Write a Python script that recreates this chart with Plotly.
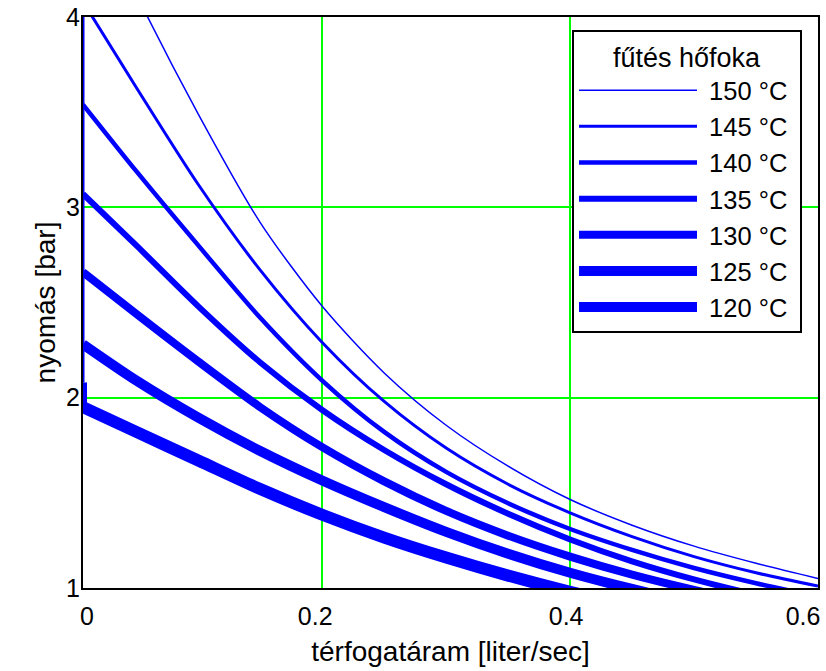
import plotly.graph_objects as go

# ---- data ----
x_flow = [0.007, 0.05, 0.1, 0.15, 0.2, 0.25, 0.3, 0.35, 0.4, 0.45, 0.5, 0.55, 0.6]
p150 = [4.72, 4.12, 3.49, 2.92, 2.48, 2.13, 1.855, 1.64, 1.465, 1.33, 1.22, 1.13, 1.05]
p145 = [4.08, 3.63, 3.12, 2.67, 2.29, 1.98, 1.735, 1.545, 1.395, 1.27, 1.165, 1.08, 1.01]
p140 = [3.54, 3.19, 2.80, 2.42, 2.09, 1.82, 1.61, 1.445, 1.31, 1.20, 1.105, 1.025, 0.955]
p135 = [3.07, 2.80, 2.48, 2.185, 1.935, 1.725, 1.545, 1.39, 1.255, 1.14, 1.045, 0.965, 0.895]
p130 = [2.66, 2.44, 2.19, 1.95, 1.74, 1.56, 1.405, 1.275, 1.165, 1.07, 0.99, 0.92, 0.86]
p125 = [2.28, 2.09, 1.895, 1.72, 1.565, 1.425, 1.295, 1.18, 1.08, 0.995, 0.92, 0.855, 0.80]
p120 = [1.95, 1.82, 1.67, 1.52, 1.385, 1.265, 1.16, 1.065, 0.98, 0.905, 0.84, 0.78, 0.73]

series_names = ["150 °C", "145 °C", "140 °C", "135 °C", "130 °C", "125 °C", "120 °C"]
series_values = [p150, p145, p140, p135, p130, p125, p120]
line_widths = [1.5, 3, 4.5, 6, 8, 10, 12]

# vertical start-up segments on the left edge
edge_y = [2.08, 4.0]
spike_y = [2.08, 1.95]

x_ticks = [0, 0.2, 0.4, 0.6]
x_tick_text = ["0", "0.2", "0.4", "0.6"]
x_grid = [0.2, 0.4]
y_ticks = [1, 2, 3, 4]
y_tick_text = ["1", "2", "3", "4"]

X_MIN, X_MAX = 0.007, 0.6
Y_MIN, Y_MAX = 1, 4

BLUE = "#0000ff"
GREEN = "#00ff00"
FONT = "Liberation Sans, Arial, sans-serif"
NBSP = "\u00a0"

# layout geometry
W, H = 826, 671
ML, MR, MT, MB = 83, 8, 17, 83
plot_w = W - ML - MR
plot_h = H - MT - MB
px_per_unit = plot_w / (X_MAX - X_MIN)
label_shift_px = [4, -7, -4, -15]
x_label_pos = [max(t, X_MIN) + s / px_per_unit for t, s in zip(x_ticks, label_shift_px)]

fig = go.Figure()

for name, vals, w in zip(series_names, series_values, line_widths):
    fig.add_trace(go.Scatter(
        x=x_flow, y=vals, mode="lines", name=NBSP + name + NBSP,
        line=dict(color=BLUE, width=w, shape="spline", smoothing=0.8),
        hoverinfo="skip",
    ))

fig.add_trace(go.Scatter(
    x=[X_MIN] * len(edge_y), y=edge_y, mode="lines", showlegend=False,
    line=dict(color=BLUE, width=3), hoverinfo="skip",
))
fig.add_trace(go.Scatter(
    x=[X_MIN] * len(spike_y), y=spike_y, mode="lines", showlegend=False,
    line=dict(color=BLUE, width=8), hoverinfo="skip",
))

fig.update_layout(
    template="none",
    width=W, height=H,
    margin=dict(l=ML, r=MR, t=MT, b=MB, autoexpand=False),
    paper_bgcolor="white", plot_bgcolor="white",
    font=dict(family=FONT, color="black"),
    showlegend=True,
    legend=dict(
        x=(802 - ML) / plot_w, xanchor="right",
        y=1 - (30 - MT) / plot_h, yanchor="top",
        bgcolor="white", bordercolor="black", borderwidth=2,
        font=dict(family=FONT, size=25.5, color="black"),
        title=dict(text="fűtés hőfoka", side="top center",
                   font=dict(family=FONT, size=27, color="black")),
        itemwidth=118,
        traceorder="normal",
    ),
    xaxis=dict(
        range=[X_MIN, X_MAX], automargin=False,
        tickmode="array", tickvals=x_label_pos, ticktext=x_tick_text,
        ticks="", showgrid=False, zeroline=False, ticklabelstandoff=5,
        minor=dict(tickmode="array", tickvals=x_grid, showgrid=True,
                   gridcolor=GREEN, gridwidth=2, ticks=""),
        showline=True, mirror=True, linecolor="black", linewidth=2,
        layer="below traces",
        tickfont=dict(family=FONT, size=25, color="black"),
        title=dict(text="térfogatáram [liter/sec]",
                   font=dict(family=FONT, size=28, color="black"), standoff=12),
    ),
    yaxis=dict(
        range=[Y_MIN, Y_MAX], automargin=False,
        tickmode="array", tickvals=y_ticks, ticktext=y_tick_text,
        ticks="", showgrid=True, gridcolor=GREEN, gridwidth=2, zeroline=False,
        ticklabelstandoff=-4,
        showline=True, mirror=True, linecolor="black", linewidth=2,
        layer="below traces",
        tickfont=dict(family=FONT, size=25, color="black"),
        title=dict(text="nyomás [bar]",
                   font=dict(family=FONT, size=28, color="black"), standoff=2),
    ),
)

fig.write_html(
    "out.html",
    config={"displayModeBar": False},
    post_script="document.body.style.margin='0';document.body.style.overflow='hidden';",
)
